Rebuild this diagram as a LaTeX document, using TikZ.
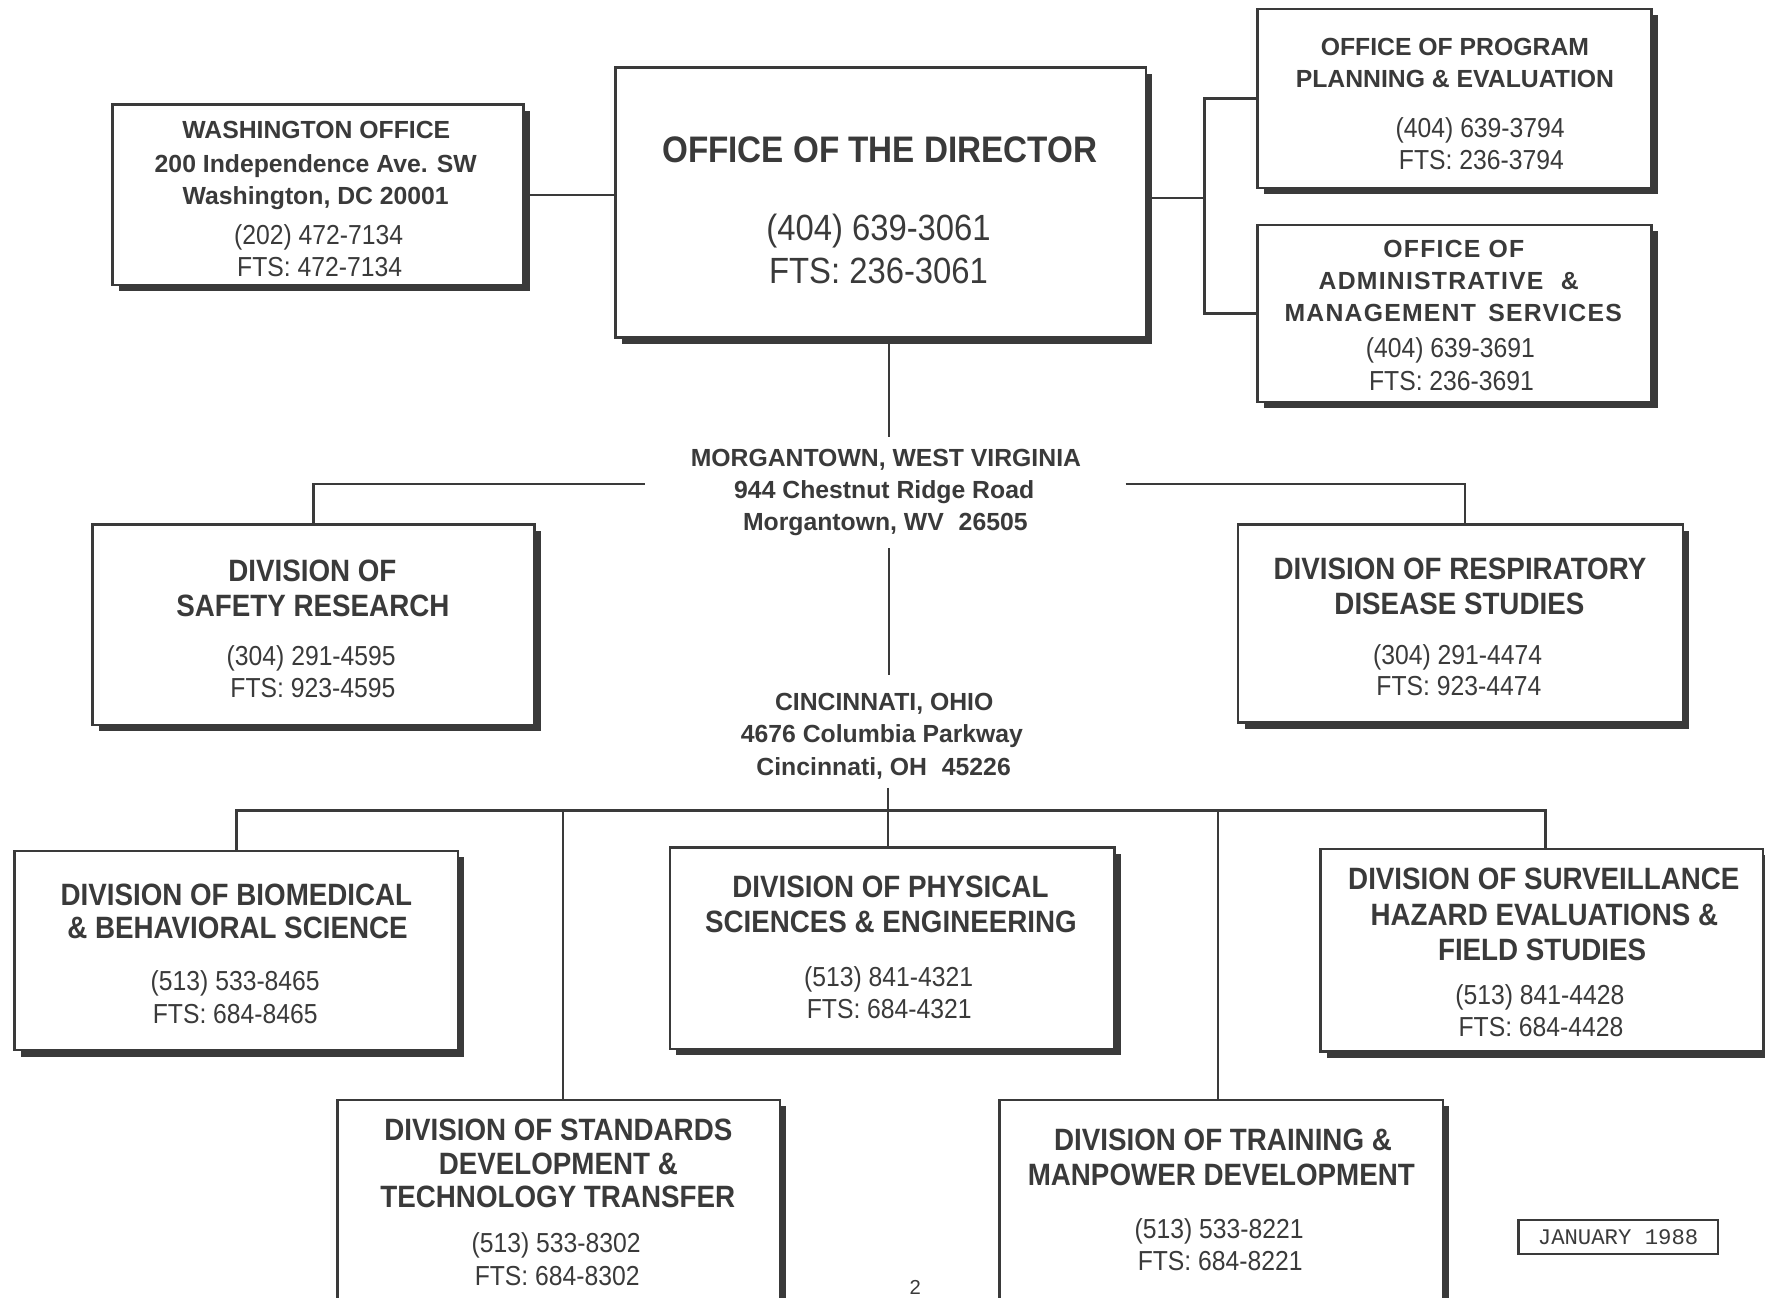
\documentclass[tikz,border=0pt]{standalone}
\usepackage{fontspec}
\setmainfont{Liberation Sans}
\newfontfamily\narrowf[FakeStretch=0.9]{Liberation Sans}
\newfontfamily\spacedf[LetterSpace=5]{Liberation Sans}
\newfontfamily\monof{Liberation Mono}
\usetikzlibrary{shadows}
\definecolor{ink}{HTML}{3A3A3A}
\tikzset{
  box/.style={draw=ink, line width=1.1pt, fill=white, inner sep=0pt, outer sep=0pt,
    drop shadow={shadow xshift=2.8pt, shadow yshift=-2.8pt, fill=ink, opacity=1}},
  conn/.style={draw=ink, line width=1pt},
  tl/.style={inner sep=0pt, outer sep=0pt, anchor=base, text=ink},
  ttl/.style={tl, font=\narrowf\bfseries\fontsize{13.7pt}{16pt}\selectfont},
  ph/.style={tl, font=\narrowf\fontsize{12.2pt}{14pt}\selectfont},
  adr/.style={tl, font=\bfseries\fontsize{11pt}{13pt}\selectfont},
  adrs/.style={tl, font=\spacedf\bfseries\fontsize{11pt}{13pt}\selectfont},
  dttl/.style={tl, font=\narrowf\bfseries\fontsize{16.4pt}{19pt}\selectfont},
  dph/.style={tl, font=\narrowf\fontsize{16.2pt}{19pt}\selectfont},
}
\begin{document}
\begin{tikzpicture}[x=0.5pt, y=-0.5pt]
\useasboundingbox (0,0) rectangle (1568,1153);
\fill[white] (0,0) rectangle (1568,1153);
\clip (0,0) rectangle (1568,1153);

% boxes
\node[box, minimum width=182.5pt, minimum height=80pt] (wash) at (282.5,173) {};
\node[box, minimum width=235.5pt, minimum height=120pt] (dir) at (782.5,180) {};
\node[box, minimum width=175pt, minimum height=79.5pt] (ppe) at (1292,87.5) {};
\node[box, minimum width=175pt, minimum height=78.5pt] (ams) at (1292,278.5) {};
\node[box, minimum width=196.5pt, minimum height=89pt] (dsr) at (278.5,555) {};
\node[box, minimum width=197.5pt, minimum height=88pt] (drds) at (1297.5,554) {};
\node[box, minimum width=197pt, minimum height=88.5pt] (dbbs) at (210,844.5) {};
\node[box, minimum width=197.5pt, minimum height=89.5pt] (dpse) at (792.5,842.5) {};
\node[box, minimum width=196.5pt, minimum height=90pt] (dshefs) at (1369.5,844) {};
\node[box, minimum width=196.5pt, minimum height=96.5pt] (dsdtt) at (496.5,1073.5) {};
\node[box, minimum width=197pt, minimum height=96.5pt] (dtmd) at (1085,1073.5) {};
\node[draw=ink, line width=1pt, inner sep=0pt, minimum width=88.5pt, minimum height=15pt,
      text=ink, font=\monof\fontsize{9.9pt}{12pt}\selectfont] (jan) at (1437.5,1099) {JANUARY 1988};

% connectors
\coordinate (rbus) at (1070,176);
\draw[conn] (wash.east) -- (wash.east -| dir.west);
\draw[conn] (dir.east |- rbus) -- (rbus);
\draw[conn] (ppe.west) -| (rbus) |- (ams.west);
\coordinate (mtop) at (790,388);
\draw[conn] (mtop |- dir.south) -- (mtop);
\coordinate (ml) at (573,430);
\coordinate (mr) at (1000,430);
\draw[conn] (ml) -| (dsr.north);
\draw[conn] (mr) -| ([xshift=2pt]drds.north);
\coordinate (mbot) at (790,487);
\coordinate (ctop) at (790,600);
\draw[conn] (mbot) -- (ctop);
\coordinate (cbot) at (789,700);
\coordinate (bus) at (789,720);
\draw[conn] (dbbs.north) |- (bus) -| ([xshift=1.75pt]dshefs.north);
\draw[conn] (cbot) -- (cbot |- dpse.north);
\draw[conn] ([xshift=1.75pt]dsdtt.north) -- ([xshift=1.75pt]dsdtt.north |- bus);
\draw[conn] ([xshift=-1.5pt]dtmd.north) -- ([xshift=-1.5pt]dtmd.north |- bus);

% Washington
\node[adr] (w1) at (281,123) {WASHINGTON OFFICE};
\node[adr] (w2) at (280.5,153) {200 Independence Ave. SW};
\node[adr] (w3) at (280.5,182) {Washington, DC 20001};
\node[ph] (w4) at (283,217) {(202) 472-7134};
\node[ph] (w5) at (284,246) {FTS: 472-7134};
% Director
\node[dttl] (d1) at (781.5,144) {OFFICE OF THE DIRECTOR};
\node[dph] (d2) at (780.5,214) {(404) 639-3061};
\node[dph] (d3) at (780.5,252) {FTS: 236-3061};
% Program planning
\node[adr] (p1) at (1292.5,49) {OFFICE OF PROGRAM};
\node[adr] (p2) at (1292.5,78) {PLANNING \& EVALUATION};
\node[ph] (p3) at (1315,122) {(404) 639-3794};
\node[ph] (p4) at (1316,151) {FTS: 236-3794};
% Admin
\node[adrs] (a1) at (1291.5,229) {OFFICE OF};
\node[adrs] (a2) at (1287,257) {ADMINISTRATIVE\hspace{0.7em}\&};
\node[adrs] (a3) at (1291,286) {MANAGEMENT\hspace{0.5em}SERVICES};
\node[ph] (a4) at (1288.5,318) {(404) 639-3691};
\node[ph] (a5) at (1289.5,347) {FTS: 236-3691};
% Morgantown
\node[adr] (m1) at (787,414) {MORGANTOWN, WEST VIRGINIA};
\node[adr] (m2) at (785.5,443) {944 Chestnut Ridge Road};
\node[adr] (m3) at (786.5,471) {Morgantown, WV\hspace{0.6em}26505};
% Safety
\node[ttl] (s1) at (277.5,517) {DIVISION OF};
\node[ttl] (s2) at (278,548) {SAFETY RESEARCH};
\node[ph] (s3) at (276.5,591) {(304) 291-4595};
\node[ph] (s4) at (278,620) {FTS: 923-4595};
% Respiratory
\node[ttl] (r1) at (1297,515) {DIVISION OF RESPIRATORY};
\node[ttl] (r2) at (1296.5,546) {DISEASE STUDIES};
\node[ph] (r3) at (1295,590) {(304) 291-4474};
\node[ph] (r4) at (1296,618) {FTS: 923-4474};
% Cincinnati
\node[adr] (c1) at (785.5,631) {CINCINNATI, OHIO};
\node[adr] (c2) at (783.5,660) {4676 Columbia Parkway};
\node[adr] (c3) at (785,689) {Cincinnati, OH\hspace{0.6em}45226};
% Biomedical
\node[ttl] (b1) at (210,804) {DIVISION OF BIOMEDICAL};
\node[ttl] (b2) at (211,834) {\& BEHAVIORAL SCIENCE};
\node[ph] (b3) at (209,880) {(513) 533-8465};
\node[ph] (b4) at (209,909) {FTS: 684-8465};
% Physical
\node[ttl] (e1) at (791,797) {DIVISION OF PHYSICAL};
\node[ttl] (e2) at (791.5,828) {SCIENCES \& ENGINEERING};
\node[ph] (e3) at (789.5,876) {(513) 841-4321};
\node[ph] (e4) at (790,905) {FTS: 684-4321};
% Surveillance
\node[ttl] (v1) at (1371.5,790) {DIVISION OF SURVEILLANCE};
\node[ttl] (v2) at (1372,822) {HAZARD EVALUATIONS \&};
\node[ttl] (v3) at (1370,853) {FIELD STUDIES};
\node[ph] (v4) at (1368,892) {(513) 841-4428};
\node[ph] (v5) at (1369,921) {FTS: 684-4428};
% Standards
\node[ttl] (t1) at (496,1013) {DIVISION OF STANDARDS};
\node[ttl] (t2) at (496,1043) {DEVELOPMENT \&};
\node[ttl] (t3) at (495.5,1073) {TECHNOLOGY TRANSFER};
\node[ph] (t4) at (494,1113) {(513) 533-8302};
\node[ph] (t5) at (495,1142) {FTS: 684-8302};
% Training
\node[ttl] (g1) at (1086.5,1022) {DIVISION OF TRAINING \&};
\node[ttl] (g2) at (1085,1053) {MANPOWER DEVELOPMENT};
\node[ph] (g3) at (1083,1100) {(513) 533-8221};
\node[ph] (g4) at (1084,1129) {FTS: 684-8221};
% page number
\node[tl, anchor=base, font=\fontsize{9pt}{11pt}\selectfont] (pg) at (813,1150) {2};
\end{tikzpicture}
\end{document}
